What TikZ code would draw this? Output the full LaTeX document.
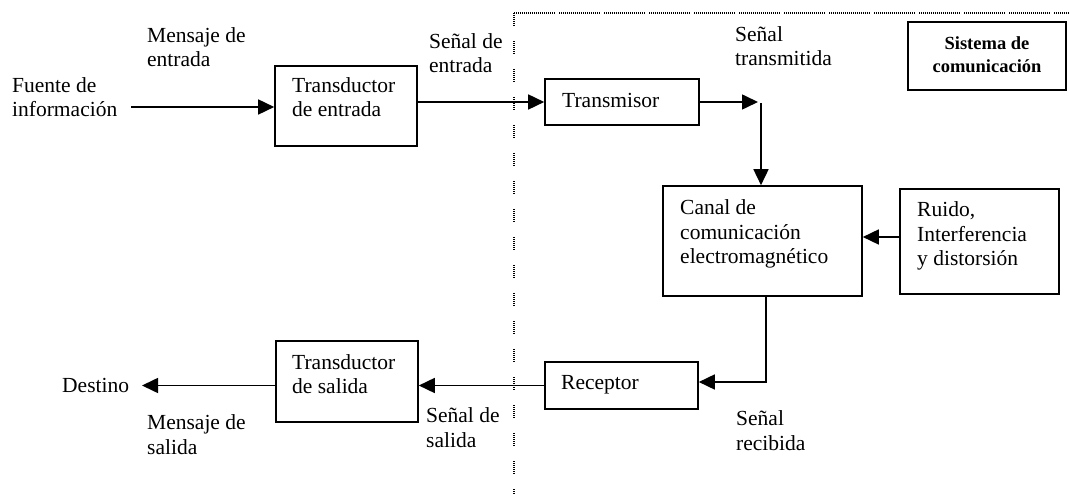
\documentclass[tikz,border=0pt]{standalone}
\usepackage{fontspec}
\setmainfont{Liberation Serif}
\usetikzlibrary{arrows.meta}
\begin{document}
\begin{tikzpicture}[x=1pt,y=-1pt,
  box/.style={draw, line width=1.6pt, inner sep=0pt},
  txt/.style={inner sep=0pt, align=left, anchor=base west, font=\fontsize{21.5}{24.5}\selectfont},
  btxt/.style={inner sep=0pt, align=center, anchor=base, font=\fontsize{18.5}{23}\selectfont\bfseries},
  arr/.style={line width=1.6pt, -{Triangle[length=16pt,width=15pt]}},
  vsep/.style={line width=1.2pt, black, dash pattern=on 1pt off 1pt on 1pt off 1pt on 1pt off 1pt on 1pt off 1pt on 1pt off 1pt on 1pt off 1pt on 1pt off 15pt},
  hsep/.style={line width=1.2pt, black, dash pattern=on 1pt off 1pt on 1pt off 1pt on 1pt off 1pt on 1pt off 1pt on 1pt off 1pt on 1pt off 1pt on 1pt off 1pt on 1pt off 1pt on 1pt off 1pt on 1pt off 1pt on 1pt off 1pt on 1pt off 1pt on 1pt off 1pt on 1pt off 1pt on 1pt off 1pt on 1pt off 1pt on 1pt off 1pt on 1pt off 1pt on 1pt off 1pt on 1pt off 1pt on 1pt off 4pt}]
\useasboundingbox (0,0) rectangle (1069,494);
% boxes
\node[box, minimum width=142pt, minimum height=80pt] (tin) at (346,106) {};
\node[box, minimum width=154pt, minimum height=46pt] (tx) at (622,102) {};
\node[box, minimum width=199pt, minimum height=110pt] (canal) at (762.5,241) {};
\node[box, minimum width=159pt, minimum height=105pt] (ruido) at (979.5,241.5) {};
\node[box, minimum width=153pt, minimum height=47pt] (rx) at (621.5,385.5) {};
\node[box, minimum width=142pt, minimum height=81pt] (tout) at (347,381.5) {};
\node[box, minimum width=158pt, minimum height=68pt] (sis) at (987,56) {};
% texts in boxes (anchor = baseline of the last line)
\node[txt] (tintxt) at (292,117) {Transductor\\de entrada};
\node[txt] (txtxt) at (562,108) {Transmisor};
\node[txt] (canaltxt) at (680,264) {Canal de\\comunicación\\electromagnético};
\node[txt] (ruidotxt) at (917,266) {Ruido,\\Interferencia\\y distorsión};
\node[txt] (rxtxt) at (561,390) {Receptor};
\node[txt] (touttxt) at (292,394) {Transductor\\de salida};
\node[btxt] (sistxt) at (987,73) {Sistema de\\comunicación};
% free labels
\node[txt] (fuente) at (12,117) {Fuente de\\información};
\node[txt] (mensin) at (147,67) {Mensaje de\\entrada};
\node[txt] (senin) at (429,73) {Señal de\\entrada};
\node[txt] (sentx) at (735,66) {Señal\\transmitida};
\node[txt] (destino) at (62,392) {Destino};
\node[txt] (mensout) at (147,454) {Mensaje de\\salida};
\node[txt] (senout) at (426,447) {Señal de\\salida};
\node[txt] (senrx) at (736,450) {Señal\\recibida};
% separator
\draw[vsep] (514,13) -- (514,494);
\draw[hsep] (514,13) -- (1069,13);
% connectors
\coordinate (a0) at (131,107);
\draw[arr] (a0) -- (tin.west |- a0);
\draw[arr] (tin.east |- tx.west) -- (tx.west);
\coordinate (c1) at (758,102);
\draw[arr] (tx.east) -- (c1);
\coordinate (c2) at (761,103);
\draw[arr] (c2) -- (c2 |- canal.north);
\coordinate (n1) at (0,237);
\draw[arr] (ruido.west |- n1) -- (canal.east |- n1);
\coordinate (c3) at (766,382);
\draw[arr] (c3 |- canal.south) -- (c3) -- (rx.east |- c3);
\draw[arr] (rx.west) -- (tout.east |- rx.west);
\coordinate (d1) at (142,385.5);
\draw[arr] (tout.west |- d1) -- (d1);
\end{tikzpicture}
\end{document}
